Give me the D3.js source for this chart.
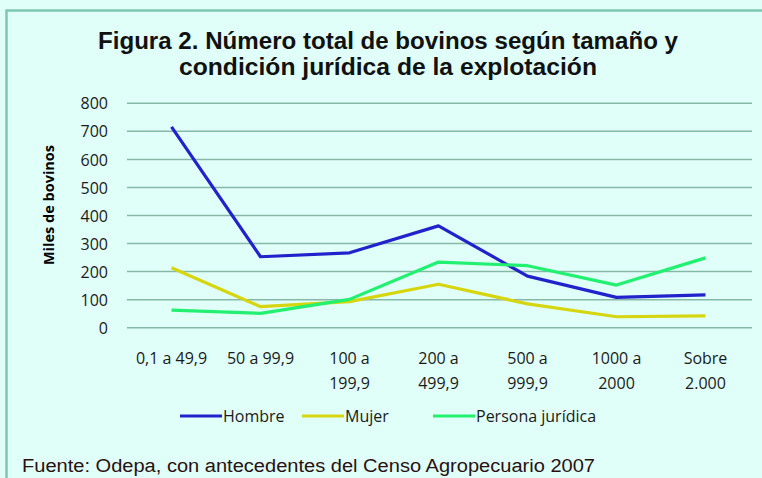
<!DOCTYPE html>
<html><head><meta charset="utf-8">
<script src="https://cdn.jsdelivr.net/npm/d3@7"></script>
<style>html,body{margin:0;padding:0;background:#e0fff8;}svg{display:block;}</style>
</head><body>
<script>
const categories = [["0,1 a 49,9"],["50 a 99,9"],["100 a","199,9"],["200 a","499,9"],["500 a","999,9"],["1000 a","2000"],["Sobre","2.000"]];
const hombre = [716, 253, 267, 363, 184, 108, 117];
const mujer = [214, 75, 93, 155, 85, 39, 42];
const juridica = [63, 51, 101, 234, 221, 152, 249];
const yTicks = [0,100,200,300,400,500,600,700,800];
const seriesNames = ["Hombre","Mujer","Persona jurídica"];
const seriesColors = ["#2222cc","#d6d610","#22f070"];
const series = [hombre, mujer, juridica];

const W=762,H=478;
const FONT="Open Sans, Lato, sans-serif";
const svg=d3.select("body").append("svg").attr("width",W).attr("height",H);
svg.append("rect").attr("width",W).attr("height",H).attr("fill","#e0fff8");
svg.append("path").attr("d","M6.5,"+H+"V10.5H"+W).attr("fill","none").attr("stroke","#7cc8b0").attr("stroke-width",2.5);

svg.append("text").attr("x",388).attr("y",49).attr("text-anchor","middle")
 .attr("font-family","Liberation Sans, Arial").attr("font-weight","bold").attr("font-size",23).attr("fill","#111")
 .attr("textLength",580).attr("lengthAdjust","spacingAndGlyphs")
 .text("Figura 2. Número total de bovinos según tamaño y");
svg.append("text").attr("x",388).attr("y",75).attr("text-anchor","middle")
 .attr("font-family","Liberation Sans, Arial").attr("font-weight","bold").attr("font-size",23).attr("fill","#111")
 .attr("textLength",418).attr("lengthAdjust","spacingAndGlyphs")
 .text("condición jurídica de la explotación");

const x=d3.scaleBand().domain(d3.range(categories.length)).range([127,750]);
const y=d3.scaleLinear().domain([0,800]).range([327.7,103.3]);

svg.append("g").selectAll("line").data(yTicks).join("line")
 .attr("x1",127).attr("x2",752).attr("y1",d=>y(d)).attr("y2",d=>y(d))
 .attr("stroke","#86b8a8").attr("stroke-width",1.5);

const yAxis=svg.append("g").attr("transform","translate(108,0)")
 .call(d3.axisLeft(y).tickValues(yTicks).tickSize(0).tickPadding(0));
yAxis.select(".domain").remove();
yAxis.selectAll("text").attr("font-family",FONT).attr("font-size",16).attr("fill","#1a1a1a").attr("dy","0.35em");

const xg=svg.append("g");
categories.forEach((c,i)=>{
  c.forEach((t,j)=>{
    xg.append("text").attr("x",x(i)+x.bandwidth()/2).attr("y",364+j*25).attr("text-anchor","middle")
     .attr("font-family",FONT).attr("font-size",16).attr("fill","#1a1a1a").text(t);
  });
});

svg.append("text").attr("transform","translate(54,205) rotate(-90)").attr("text-anchor","middle")
 .attr("font-family",FONT).attr("font-weight","bold").attr("font-size",14.5).attr("fill","#000")
 .text("Miles de bovinos");

const line=d3.line().x((d,i)=>x(i)+x.bandwidth()/2).y(d=>y(d));
series.forEach((s,k)=>{
  svg.append("path").datum(s).attr("d",line).attr("fill","none").attr("stroke",seriesColors[k])
   .attr("stroke-width",3.2).attr("stroke-linejoin","round");
});

const legX=[180,302,433];
seriesNames.forEach((n,k)=>{
  svg.append("line").attr("x1",legX[k]).attr("x2",legX[k]+42).attr("y1",416).attr("y2",416)
   .attr("stroke",seriesColors[k]).attr("stroke-width",3.2);
  svg.append("text").attr("x",legX[k]+43).attr("y",422).attr("font-family",FONT)
   .attr("font-size",16).attr("fill","#1a1a1a").text(n);
});

svg.append("text").attr("x",22).attr("y",472).attr("font-family","Liberation Sans, Arial").attr("font-size",18)
 .attr("fill","#2a1010").attr("textLength",573).attr("lengthAdjust","spacingAndGlyphs")
 .text("Fuente: Odepa, con antecedentes del Censo Agropecuario 2007");
</script>
</body></html>
